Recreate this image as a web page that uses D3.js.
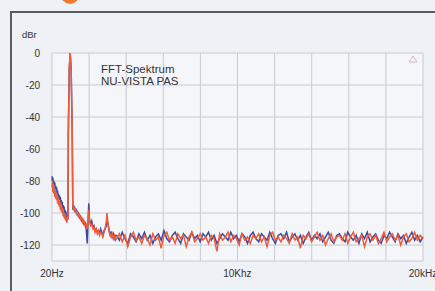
<!DOCTYPE html>
<html>
<head>
<meta charset="utf-8">
<script src="https://cdn.jsdelivr.net/npm/d3@7"></script>
<style>
  html, body { margin: 0; padding: 0; background: #eef1f5; }
  svg { display: block; font-family: "Liberation Sans", Arial, sans-serif; }
</style>
</head>
<body>
<script>
// frequency points (Hz): low band, fundamental, harmonics, noise floor
var freqHz = [
  20, 45, 70, 95, 120, 145, 170, 195, 220, 245, 270, 295, 320, 345, 370, 395, 420, 445,
  470, 495, 520, 545, 570, 595, 620, 645, 670, 695, 720, 745, 770, 795, 820, 845, 870,
  880, 900, 950, 1000, 1050, 1110,
  1140, 1200, 1260, 1320, 1380, 1440, 1500, 1560, 1620, 1680, 1740, 1800, 1860, 1920,
  1960, 2000, 2040, 2100, 2160, 2220, 2280, 2340, 2400, 2460, 2520, 2580, 2640, 2700,
  2760, 2820, 2880, 2940, 2980, 3020, 3080, 3140, 3200, 3260, 3320, 3380, 3440,
  3500, 3650, 3800, 3950, 4100, 4250, 4400, 4550, 4700, 4850,
  5000, 5150, 5300, 5450, 5600, 5750, 5900, 6050, 6200, 6350,
  6500, 6650, 6800, 6950, 7100, 7250, 7400, 7550, 7700, 7850,
  8000, 8150, 8300, 8450, 8600, 8750, 8900, 9050, 9200, 9350,
  9500, 9650, 9800, 9950, 10100, 10250, 10400, 10550, 10700, 10850,
  11000, 11150, 11300, 11450, 11600, 11750, 11900, 12050, 12200, 12350,
  12500, 12650, 12800, 12950, 13100, 13250, 13400, 13550, 13700, 13850,
  14000, 14150, 14300, 14450, 14600, 14750, 14900, 15050, 15200, 15350,
  15500, 15650, 15800, 15950, 16100, 16250, 16400, 16550, 16700, 16850,
  17000, 17150, 17300, 17450, 17600, 17750, 17900, 18050, 18200, 18350,
  18500, 18650, 18800, 18950, 19100, 19250, 19400, 19550, 19700, 19850,
  20000
];

// left channel (blue), dBr
var blueDb = [
  -77, -80, -78, -82, -80, -83, -81, -85, -83, -86, -84, -88, -86, -89, -88, -91, -89, -92,
  -90, -94, -92, -95, -93, -97, -95, -98, -96, -100, -98, -101, -99, -103, -101, -104, -103,
  -104, -50, -10, 0, -10, -50,
  -97, -96, -99, -98, -101, -100, -103, -102, -105, -104, -107, -106, -110, -119,
  -106, -94, -104, -107, -105, -109, -108, -111, -110, -112, -111, -113, -110, -112,
  -114, -111, -110, -108, -104, -106, -110, -113, -112, -115, -113, -116, -114,
  -114, -117, -112, -116, -119, -113, -115, -118, -113, -116,
  -112, -117, -114, -119, -115, -113, -117, -111, -116, -118,
  -114, -112, -116, -119, -113, -115, -117, -112, -116, -114,
  -118, -113, -115, -112, -117, -114, -119, -116, -113, -115,
  -117, -112, -116, -114, -118, -113, -115, -119, -114, -112,
  -116, -118, -113, -115, -117, -112, -116, -119, -114, -113,
  -116, -112, -118, -115, -113, -117, -114, -119, -115, -112,
  -117, -114, -116, -113, -118, -115, -112, -117, -119, -114,
  -113, -116, -118, -112, -115, -117, -114, -119, -113, -116,
  -112, -118, -115, -113, -117, -119, -114, -116, -112, -115,
  -118, -113, -116, -114, -119, -115, -112, -117, -114, -118,
  -115
];

// right channel (orange), dBr
var orangeDb = [
  -84, -80, -87, -83, -88, -85, -90, -86, -91, -88, -92, -89, -94, -90, -95, -92, -96, -93,
  -98, -94, -99, -96, -100, -97, -102, -99, -103, -100, -104, -101, -105, -103, -106, -104, -102,
  -104, -50, -10, 0, -10, -50,
  -96, -98, -97, -100, -99, -102, -101, -104, -103, -106, -105, -108, -107, -110,
  -106, -98, -105, -108, -107, -110, -109, -112, -110, -113, -111, -114, -112, -113,
  -115, -112, -110, -106, -100, -105, -110, -114, -115, -113, -116, -114, -117,
  -116, -113, -118, -114, -121, -115, -112, -117, -115, -119,
  -114, -116, -120, -113, -117, -115, -122, -114, -112, -117,
  -115, -119, -113, -116, -114, -121, -115, -112, -118, -116,
  -113, -117, -115, -119, -114, -116, -124, -113, -117, -115,
  -112, -118, -114, -116, -120, -113, -117, -115, -119, -114,
  -116, -113, -118, -115, -121, -114, -112, -117, -115, -118,
  -114, -116, -119, -113, -117, -115, -122, -114, -116, -113,
  -118, -115, -112, -117, -114, -120, -116, -113, -118, -115,
  -114, -117, -113, -119, -115, -112, -118, -116, -114, -121,
  -115, -113, -117, -114, -119, -116, -112, -118, -115, -113,
  -117, -114, -120, -115, -113, -118, -116, -112, -117, -114,
  -116
];

var yTicks = [0, -20, -40, -60, -80, -100, -120];
var xTickValues = [20, 10000, 20000];
var xTickLabels = ["20Hz", "10Khz", "20kHz"];
var titleLines = ["FFT-Spektrum", "NU-VISTA PAS"];

var W = 435, H = 291;
var svg = d3.select("body").append("svg")
  .attr("width", W)
  .attr("height", H);

// bit of the orange logo cut off at the top
svg.append("circle")
  .attr("cx", 70).attr("cy", -5).attr("r", 9)
  .style("fill", "#f07a2e");

// outer frame
svg.append("path")
  .attr("d", "M11,291 L11,12 L435,12")
  .style("fill", "none")
  .style("stroke", "#5a5c60")
  .style("stroke-width", 2);

var x = d3.scaleLinear().domain([20, 20000]).range([52, 423]);
var y = d3.scaleLinear().domain([-130, 0]).range([261, 53]);

svg.append("rect")
  .attr("x", x(20)).attr("y", y(0))
  .attr("width", x(20000) - x(20))
  .attr("height", y(-130) - y(0))
  .style("fill", "#f4f6f9");

// grid
var gridX = d3.range(11).map(function(i) { return 20 + i * 1998; });
svg.selectAll(".vgrid").data(gridX).enter().append("line")
  .attr("x1", function(d) { return x(d); })
  .attr("x2", function(d) { return x(d); })
  .attr("y1", y(0)).attr("y2", y(-130))
  .style("stroke", "#c8cacf")
  .style("stroke-width", 1);

svg.selectAll(".hgrid").data(yTicks.concat([-130])).enter().append("line")
  .attr("x1", x(20)).attr("x2", x(20000))
  .attr("y1", function(d) { return y(d); })
  .attr("y2", function(d) { return y(d); })
  .style("stroke", "#c8cacf")
  .style("stroke-width", 1);

// y labels
svg.selectAll(".ylab").data(yTicks).enter().append("text")
  .attr("x", 40)
  .attr("y", function(d) { return y(d) + 3.5; })
  .attr("text-anchor", "end")
  .style("font-size", "10px")
  .style("fill", "#333")
  .text(function(d) { return d; });

svg.append("text")
  .attr("x", 22).attr("y", 38)
  .style("font-size", "9.5px")
  .style("fill", "#333")
  .text("dBr");

// x labels
svg.selectAll(".xlab").data(xTickValues).enter().append("text")
  .attr("x", function(d) { return x(d); })
  .attr("y", 277)
  .attr("text-anchor", "middle")
  .style("font-size", "10px")
  .style("fill", "#333")
  .text(function(d, i) { return xTickLabels[i]; });

// traces
var line = d3.line()
  .x(function(d) { return x(d[0]); })
  .y(function(d) { return y(d[1]); });

svg.append("path")
  .datum(d3.zip(freqHz, blueDb))
  .attr("d", line)
  .style("fill", "none")
  .style("stroke", "#3f4a9e")
  .style("stroke-width", 1.5);

svg.append("path")
  .datum(d3.zip(freqHz, orangeDb))
  .attr("d", line)
  .style("fill", "none")
  .style("stroke", "#ef5b38")
  .style("stroke-width", 1.5);

// title
svg.selectAll(".title").data(titleLines).enter().append("text")
  .attr("x", 101)
  .attr("y", function(d, i) { return 73 + i * 12; })
  .style("font-size", "11.5px")
  .style("fill", "#333")
  .text(function(d) { return d; });

// little triangle mark top right
svg.append("path")
  .attr("d", "M409,62 L413,56 L417,62 Z")
  .style("fill", "none")
  .style("stroke", "#d9b8bc")
  .style("stroke-width", 1);
</script>
</body>
</html>
